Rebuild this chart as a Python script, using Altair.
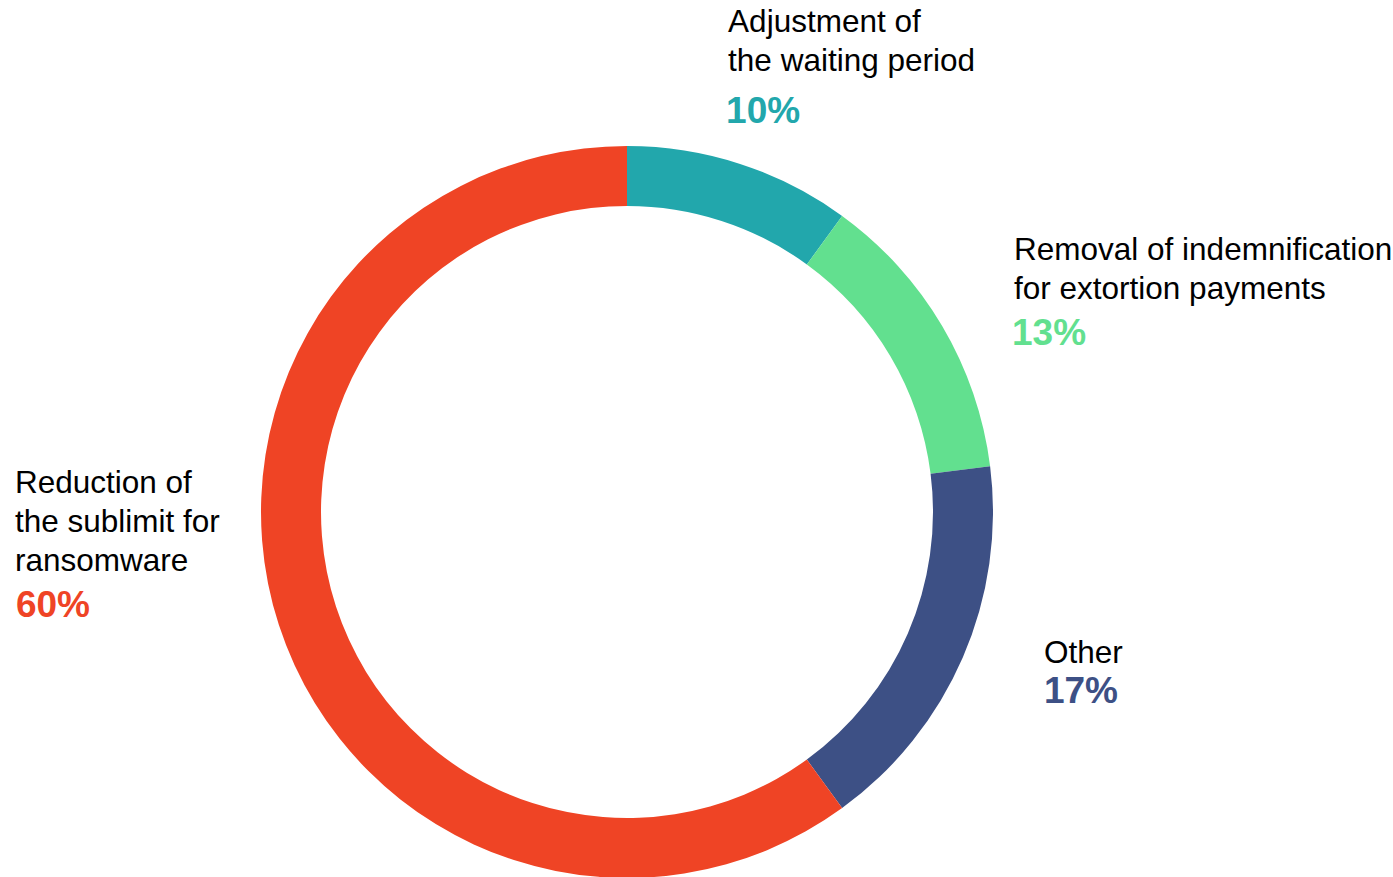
import altair as alt
import pandas as pd

# ---- data ----
categories = [
    "Adjustment of the waiting period",
    "Removal of indemnification for extortion payments",
    "Other",
    "Reduction of the sublimit for ransomware",
]
label_lines = [
    "Adjustment of\nthe waiting period",
    "Removal of indemnification\nfor extortion payments",
    "Other",
    "Reduction of\nthe sublimit for\nransomware",
]
shares = [10, 13, 17, 60]
colors = ["#22A7AC", "#62E08F", "#3D5085", "#EF4425"]
slice_order = [0, 1, 2, 3]

df = pd.DataFrame({
    "category": categories,
    "label": label_lines,
    "share": shares,
    "order": slice_order,
    "pct": [f"{s}%" for s in shares],
})

CX, CY = 627, 512
R_OUT, R_IN = 366, 306
FONT = "Liberation Sans"

color = alt.Color("category:N", scale=alt.Scale(domain=categories, range=colors), legend=None)
theta_scale = alt.Scale(domain=[0, 100])

base = (
    alt.Chart(df)
    .transform_stack(stack="share", groupby=[], as_=["s0", "s1"], sort=[alt.SortField("order", order="ascending")])
    .transform_calculate(mid="(datum.s0 + datum.s1) / 2")
)

ring = base.mark_arc(x=CX, y=CY, outerRadius=R_OUT, innerRadius=R_IN).encode(
    theta=alt.Theta("s0:Q", scale=theta_scale),
    theta2="s1:Q",
    color=color,
)

# per-slice label offsets (label dx, dy, percent dx, dy)
offsets = [
    (-12, -132, -14, -41),
    (72, -66, 70, 19),
    (81, 6, 81, 46),
    (-264, -132, -263, -8),
]

layers = [ring]
for cat, (ldx, ldy, pdx, pdy) in zip(categories, offsets):
    sub = base.transform_filter(alt.datum.category == cat)
    layers.append(
        sub.mark_text(
            x=CX, y=CY, radius=R_OUT, align="left", baseline="alphabetic",
            dx=ldx, dy=ldy, font=FONT, fontSize=31.5, lineBreak="\n", lineHeight=39,
            color="#000000",
        ).encode(theta=alt.Theta("mid:Q", scale=theta_scale), text="label:N")
    )
    layers.append(
        sub.mark_text(
            x=CX, y=CY, radius=R_OUT, align="left", baseline="alphabetic",
            dx=pdx, dy=pdy, font=FONT, fontSize=37, fontWeight="bold",
        ).encode(theta=alt.Theta("mid:Q", scale=theta_scale), text="pct:N", color=color)
    )

chart = (
    alt.layer(*layers)
    .properties(width=1393, height=877, autosize=alt.AutoSizeParams(type="none"), padding=0, background="white")
    .configure_view(stroke=None)
)

chart.save("out.html", embed_options={"renderer": "svg", "actions": False})
